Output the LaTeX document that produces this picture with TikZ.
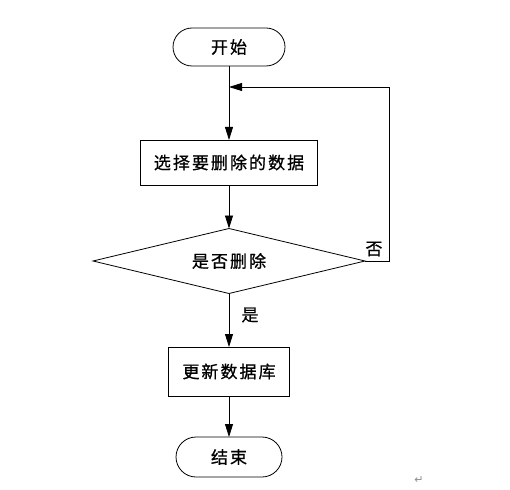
\documentclass[tikz,border=0pt]{standalone}
\usepackage{fontspec}
\newfontfamily\cjk[LetterSpace=12,FakeBold=0.8]{Noto Sans CJK SC}
\newfontfamily\sym{DejaVu Sans}
\usetikzlibrary{shapes.geometric,arrows.meta}
\begin{document}
\begin{tikzpicture}[x=1pt,y=-1pt,
  every node/.style={font=\cjk\fontsize{17}{20}\selectfont, inner sep=0pt, outer sep=0pt},
  term/.style={draw, line width=0.8pt, rounded corners=19pt, minimum width=112pt, minimum height=38pt},
  proc/.style={draw, line width=0.8pt, minimum height=45pt},
  dec/.style={draw, line width=0.8pt, diamond, aspect=4.2, minimum width=272pt, minimum height=65pt},
  flow/.style={draw, line width=0.8pt, -{Triangle[length=13pt,width=8pt]}},
  lbl/.style={font=\cjk\fontsize{17}{20}\selectfont}]
\useasboundingbox (0,0) rectangle (510,489);
\node[term] (start) at (229,47) {开始};
\node[proc, minimum width=177pt] (sel) at (229,162.5) {选择要删除的数据};
\node[dec] (ask) at (229,261) {是否删除};
\node[proc, minimum width=121pt, minimum height=49pt] (upd) at (229,371.5) {更新数据库};
\node[term, minimum width=106pt, minimum height=40pt, rounded corners=20pt] (stop) at (229,457) {结束};
\coordinate (lp) at (229,87);
\coordinate (rc) at (389,261);
\draw[line width=0.8pt] (start) -- (lp);
\draw[flow] (lp) -- (sel);
\draw[flow] (sel) -- (ask);
\draw[flow] (ask) -- (upd);
\draw[flow] (upd) -- (stop);
\draw[flow] (ask.east) -- (rc) |- (lp);
\node[lbl] (no) at (374,249) {否};
\node[lbl] (yes) at (250,315) {是};
\node[font=\sym\fontsize{11}{13}\selectfont, text=black!45] (ret) at (419,480) {↵};
\end{tikzpicture}
\end{document}
